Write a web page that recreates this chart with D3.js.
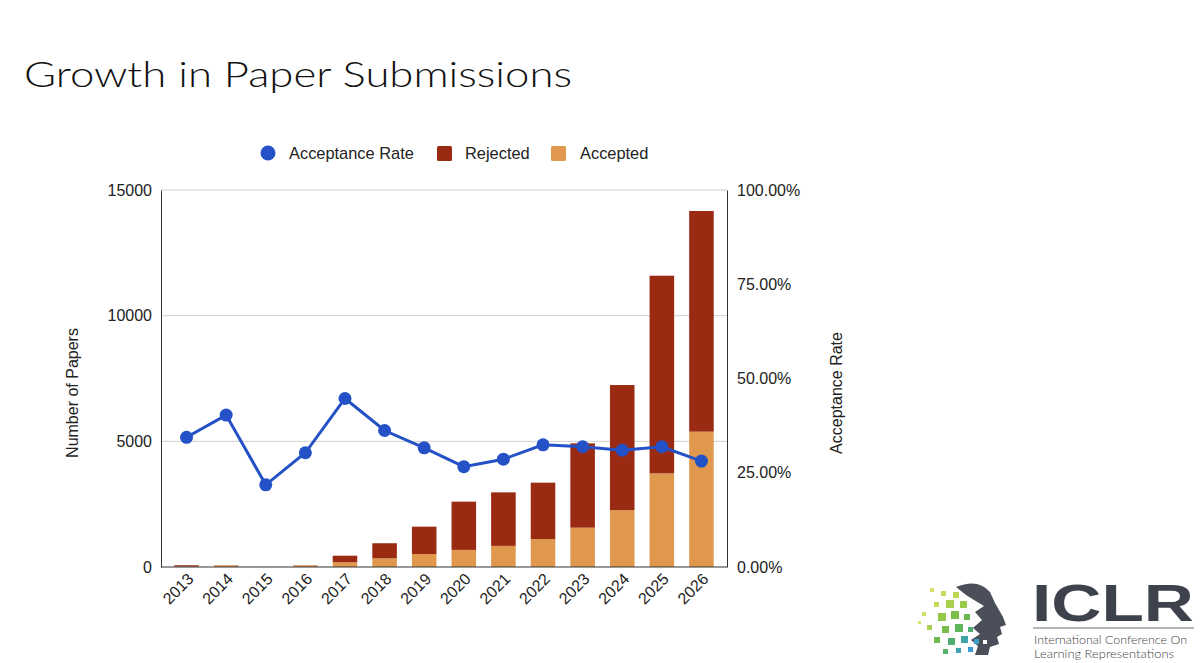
<!DOCTYPE html>
<html><head><meta charset="utf-8">
<script src="https://cdn.jsdelivr.net/npm/d3@7"></script>
<style>body{margin:0;background:#fff}svg{display:block}</style>
</head><body>
<svg id="c" width="1200" height="663"></svg>
<script>
const years = ["2013","2014","2015","2016","2017","2018","2019","2020","2021","2022","2023","2024","2025","2026"];
const accepted = [20, 60, 0, 60, 190, 345, 515, 680, 840, 1110, 1565, 2265, 3725, 5385];
const rejected = [50, 10, 0, 10, 260, 600, 1090, 1920, 2130, 2245, 3355, 4975, 7865, 8780];
const acceptanceRate = [0.344, 0.403, 0.218, 0.303, 0.447, 0.362, 0.316, 0.266, 0.286, 0.324, 0.319, 0.310, 0.319, 0.281];
const leftTicks = [0, 5000, 10000, 15000];
const rightTicks = [0, 0.25, 0.5, 0.75, 1];

const svg = d3.select("#c");
const L = 161, R = 727, T = 190, B = 567;
const font = "'Liberation Sans', Arial, sans-serif";

svg.append("text").attr("x", 24).attr("y", 87).attr("font-family", "Lato, 'Open Sans', sans-serif")
  .attr("font-weight", 300).attr("font-size", 35).attr("fill", "#111")
  .attr("textLength", 548).attr("lengthAdjust", "spacingAndGlyphs").text("Growth in Paper Submissions");

const x = d3.scaleBand().domain(years).range([L, R]).paddingInner(0.38).paddingOuter(0.335);
const y = d3.scaleLinear().domain([0, 15000]).range([B, T]);
const y2 = d3.scaleLinear().domain([0, 1]).range([B, T]);

// gridlines
svg.append("g").selectAll("line").data(leftTicks.filter(d => d > 0)).join("line")
  .attr("x1", L).attr("x2", R).attr("y1", d => y(d)).attr("y2", d => y(d))
  .attr("stroke", "#cfcfcf").attr("stroke-width", 1);

// bars
const stackData = years.map((yr, i) => ({year: yr, accepted: accepted[i], rejected: rejected[i]}));
const series = d3.stack().keys(["accepted", "rejected"])(stackData);
const colors = {accepted: "#df984d", rejected: "#9b2a13"};
const bars = svg.append("g");
series.forEach(s => {
  bars.selectAll(null).data(s).join("rect")
    .attr("x", d => x(d.data.year)).attr("width", x.bandwidth())
    .attr("y", d => y(d[1])).attr("height", d => Math.max(0, y(d[0]) - y(d[1])))
    .attr("fill", colors[s.key]);
});

// axes
const left = svg.append("g").attr("transform", `translate(${L},0)`)
  .call(d3.axisLeft(y).tickValues(leftTicks).tickSize(0).tickPadding(9).tickFormat(d3.format("d")));
left.select(".domain").attr("stroke", "#333");
left.selectAll("text").attr("font-family", font).attr("font-size", 16).attr("fill", "#222");

const right = svg.append("g").attr("transform", `translate(${R},0)`)
  .call(d3.axisRight(y2).tickValues(rightTicks).tickSize(0).tickPadding(10).tickFormat(d3.format(".2%")));
right.select(".domain").attr("stroke", "#333");
right.selectAll("text").attr("font-family", font).attr("font-size", 16).attr("fill", "#222");

const bottom = svg.append("g").attr("transform", `translate(0,${B})`)
  .call(d3.axisBottom(x).tickSize(0).tickPadding(0));
bottom.select(".domain").attr("stroke", "#333").attr("d", `M${L},0H${R}`);
bottom.selectAll("text").attr("font-family", font).attr("font-size", 16).attr("fill", "#222")
  .attr("text-anchor", "end").attr("dy", 0)
  .attr("transform", "translate(8,13) rotate(-45)");

// line
const line = d3.line().x((d, i) => x(years[i]) + x.bandwidth() / 2).y(d => y2(d));
svg.append("path").datum(acceptanceRate).attr("d", line).attr("fill", "none")
  .attr("stroke", "#2452c6").attr("stroke-width", 3);
svg.append("g").selectAll("circle").data(acceptanceRate).join("circle")
  .attr("cx", (d, i) => x(years[i]) + x.bandwidth() / 2).attr("cy", d => y2(d)).attr("r", 6.5)
  .attr("fill", "#2452c6");

// axis titles
svg.append("text").attr("transform", "translate(78,393) rotate(-90)").attr("text-anchor", "middle")
  .attr("font-family", font).attr("font-size", 16).attr("fill", "#222").text("Number of Papers");
svg.append("text").attr("transform", "translate(842,393) rotate(-90)").attr("text-anchor", "middle")
  .attr("font-family", font).attr("font-size", 16).attr("fill", "#222").text("Acceptance Rate");

// legend
const lg = svg.append("g").attr("font-family", font).attr("font-size", 16.4).attr("fill", "#222");
lg.append("circle").attr("cx", 268).attr("cy", 153).attr("r", 7.5).attr("fill", "#2452c6");
lg.append("text").attr("x", 289).attr("y", 159).text("Acceptance Rate");
lg.append("rect").attr("x", 437).attr("y", 146).attr("width", 15).attr("height", 15).attr("rx", 1.5).attr("fill", colors.rejected);
lg.append("text").attr("x", 465).attr("y", 159).text("Rejected");
lg.append("rect").attr("x", 551).attr("y", 146).attr("width", 15).attr("height", 15).attr("rx", 1.5).attr("fill", colors.accepted);
lg.append("text").attr("x", 580).attr("y", 159).text("Accepted");

// logo
const logo = svg.append("g");
logo.append("path").attr("fill", "#4a4f5a")
  .attr("d", "M956,587 Q978,578 990,592 L995,603 L1003,617 L1006,625 L1000,627 L1002,634 L997,637 L999,644 L990,647 L988,655 L975,655 L978,646 L971,640 L980,634 L973,628 L982,620 L975,612 L984,606 L974,600 L966,595 Z");
const sq = [
  [930,588,4,"#d8e06a"],[941,591,5,"#c9da5a"],[953,592,6,"#bcd552"],[934,602,5,"#c8da55"],[946,600,8,"#a9cf4c"],
  [960,601,7,"#98c94a"],[922,612,4,"#d3df66"],[938,613,8,"#93c84b"],[951,611,8,"#7dbf4a"],[964,614,6,"#6ab94e"],
  [927,625,5,"#a8d050"],[942,626,7,"#78bd4e"],[955,624,8,"#5fb55a"],[968,627,5,"#53ae74"],[934,637,6,"#6fbb52"],
  [948,638,7,"#4fae72"],[961,636,7,"#3fa6a8"],[974,639,5,"#3b9fc8"],[943,649,5,"#58b26c"],[956,648,5,"#3fa3b4"],
  [968,647,5,"#3a9bd6"],[918,621,3,"#dce46e"],[982,599,3,"#4a4f5a"],[984,621,3,"#4a4f5a"],[983,640,4,"#ffffff"]
];
logo.selectAll(null).data(sq).join("rect").attr("x", d => d[0]).attr("y", d => d[1])
  .attr("width", d => d[2]).attr("height", d => d[2]).attr("fill", d => d[3]);
logo.append("text").attr("x", 1032).attr("y", 621).attr("font-family", "'Liberation Sans', Arial, sans-serif")
  .attr("font-weight", 700).attr("font-size", 52).attr("fill", "#3d424d")
  .attr("textLength", 162).attr("lengthAdjust", "spacingAndGlyphs").text("ICLR");
logo.append("line").attr("x1", 1033).attr("x2", 1194).attr("y1", 628).attr("y2", 628).attr("stroke", "#6a6e78").attr("stroke-width", 1.2);
logo.append("text").attr("x", 1034).attr("y", 644).attr("font-family", "Lato, sans-serif").attr("font-weight", 300)
  .attr("font-size", 11.5).attr("fill", "#444").attr("textLength", 153).attr("lengthAdjust", "spacingAndGlyphs").text("International Conference On");
logo.append("text").attr("x", 1034).attr("y", 658).attr("font-family", "Lato, sans-serif").attr("font-weight", 300)
  .attr("font-size", 11.5).attr("fill", "#444").attr("textLength", 140).attr("lengthAdjust", "spacingAndGlyphs").text("Learning Representations");
</script>
</body></html>
